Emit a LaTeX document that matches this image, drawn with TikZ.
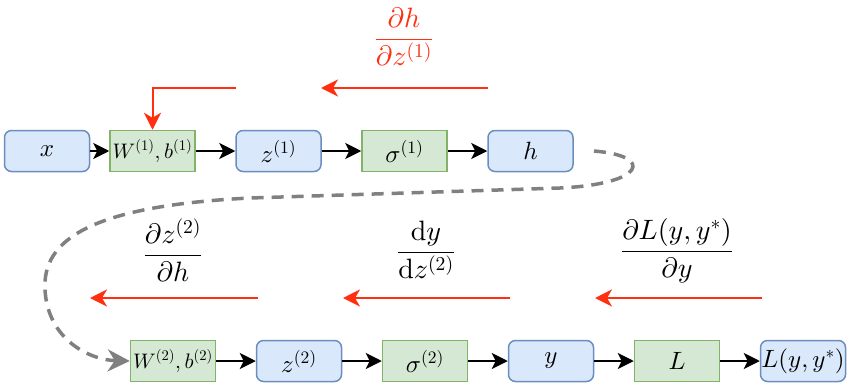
\documentclass[tikz,border=0pt]{standalone}
\DeclareFontShape{OML}{cmm}{m}{it}{<->cmmi10}{}
\DeclareFontShape{OMS}{cmsy}{m}{n}{<->cmsy10}{}
\DeclareFontShape{OT1}{cmr}{m}{n}{<->cmr10}{}
\usetikzlibrary{arrows.meta}
\definecolor{bfill}{HTML}{DAE8FC}
\definecolor{bline}{HTML}{6C8EBF}
\definecolor{gfill}{HTML}{D5E8D4}
\definecolor{gline}{HTML}{82B366}
\definecolor{gred}{HTML}{FF2F0F}
\definecolor{dgray}{HTML}{808080}
\begin{document}
\begin{tikzpicture}[x=1pt,y=-1pt,
  box/.style={minimum width=85pt,minimum height=41pt,inner sep=0pt,line width=1.5pt,font=\fontsize{25}{29}\selectfont},
  blue/.style={box,draw=bline,fill=bfill,rounded corners=7pt},
  green/.style={box,draw=gline,fill=gfill},
  small/.style={font=\fontsize{21}{25}\selectfont},
  fw/.style={line width=2pt,-{Stealth[length=16pt,width=16pt,inset=4pt]}},
  bw/.style={line width=2pt,draw=gred,-{Stealth[length=17pt,width=17pt,inset=5pt]}},
  lab/.style={inner sep=0pt,font=\fontsize{28}{33}\selectfont}]
\useasboundingbox (0,0) rectangle (850,388);
% top row
\node[blue]  (x)  at (47,151) {$x$};
\node[green,small] (w1) at (152.5,151) {$W^{(1)},b^{(1)}$};
\node[blue]  (z1) at (278.5,151) {$z^{(1)}$};
\node[green] (s1) at (404.5,151) {$\sigma^{(1)}$};
\node[blue]  (h)  at (530.5,151) {$h$};
% bottom row
\node[green,small] (w2) at (173,361) {$W^{(2)},b^{(2)}$};
\node[blue]  (z2) at (299,361) {$z^{(2)}$};
\node[green] (s2) at (425,361) {$\sigma^{(2)}$};
\node[blue]  (y)  at (551,361) {$y$};
\node[green] (L)  at (677,361) {$L$};
\node[blue]  (Ly) at (803,361) {$L(y,y^*)$};
% forward arrows
\draw[fw] (x) -- (w1);
\draw[fw] (w1) -- (z1);
\draw[fw] (z1) -- (s1);
\draw[fw] (s1) -- (h);
\draw[fw] (w2) -- (z2);
\draw[fw] (z2) -- (s2);
\draw[fw] (s2) -- (y);
\draw[fw] (y) -- (L);
\draw[fw] (L) -- (Ly);
% backward arrows
\coordinate (t1) at (488,88);  \coordinate (t2) at (321,88);
\coordinate (t3) at (236,88);  \coordinate (t4) at (152.5,88);
\draw[bw] (t1) -- (t2);
\draw[bw] (t3) -- (t4) -- (w1.north);
\coordinate (b1) at (258,298); \coordinate (b2) at (90,298);
\coordinate (b3) at (510,298); \coordinate (b4) at (343,298);
\coordinate (b5) at (762,298); \coordinate (b6) at (595,298);
\draw[bw] (b1) -- (b2);
\draw[bw] (b3) -- (b4);
\draw[bw] (b5) -- (b6);
% labels
\node[lab,text=gred] (l1) at (404,37) {$\displaystyle\frac{\partial h}{\partial z^{(1)}}$};
\node[lab] (l2) at (173,250) {$\displaystyle\frac{\partial z^{(2)}}{\partial h}$};
\node[lab] (l3) at (426,250) {$\displaystyle\frac{\mathrm{d}y}{\mathrm{d}z^{(2)}}$};
\node[lab] (l4) at (677,251) {$\displaystyle\frac{\partial L(y,y^*)}{\partial y}$};
% dashed feedback
\coordinate (d0) at (594,151);
\draw[dgray,line width=3.5pt,dash pattern=on 12pt off 8pt,-{Stealth[length=22pt,width=22pt,inset=7pt]}]
  (d0) .. controls (655,156) and (645,184) .. (560,188)
  -- (250,198) .. controls (90,206) and (42,240) .. (45,290)
  .. controls (48,340) and (90,360) .. (w2.west);
\end{tikzpicture}
\end{document}
